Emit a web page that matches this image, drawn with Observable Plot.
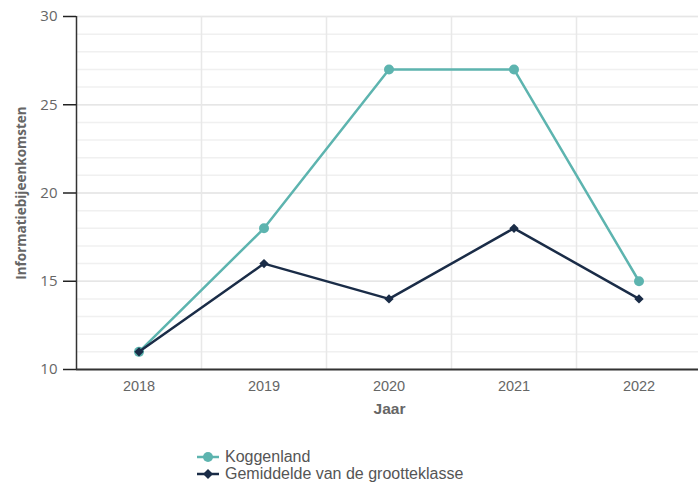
<!DOCTYPE html>
<html><head><meta charset="utf-8">
<script src="https://cdn.jsdelivr.net/npm/d3@7"></script>
<script src="https://cdn.jsdelivr.net/npm/@observablehq/plot@0.6"></script>
<style>
body{margin:0;background:#fff;font-family:"Liberation Sans",Arial,sans-serif}
#legend{margin-left:197px;margin-top:18px;font-size:16px;color:#555}
.item{display:flex;align-items:center;height:17px}
.item svg{margin-right:6px}
</style>
</head><body><div id="chart"></div><div id="legend"></div>
<script>
const years = ["2018","2019","2020","2021","2022"];
const koggenland = [11,18,27,27,15];
const gemiddelde = [11,16,14,18,14];
const yTicks = [10,15,20,25,30];
const seriesNames = ["Koggenland","Gemiddelde van de grootteklasse"];
const seriesColors = ["#5db4af","#1a2c47"];

const kog = koggenland.map((v,i)=>({i, v}));
const gem = gemiddelde.map((v,i)=>({i, v}));

const plot = Plot.plot({
  width: 698, height: 430,
  marginLeft: 76, marginRight: 0, marginTop: 16, marginBottom: 61,
  style: {fontFamily: '"Liberation Sans", Arial, sans-serif', background: "#fff"},
  x: {domain: [-0.5, 4.5], range: [76, 701], axis: null},
  y: {domain: [10, 30], range: [369, 16], axis: null},
  marks: [
    Plot.ruleY(d3.range(10, 31), {stroke: "#f0f0f0", strokeWidth: 1.5}),
    Plot.ruleY(yTicks.slice(1), {stroke: "#e6e6e6", strokeWidth: 1.5}),
    Plot.ruleX([0.5,1.5,2.5,3.5], {stroke: "#e8e8e8", strokeWidth: 1.5}),
    Plot.ruleX([-0.5], {stroke: "#333", strokeWidth: 1.5}),
    Plot.ruleY([10], {stroke: "#333", strokeWidth: 2}),
    Plot.axisY({ticks: yTicks, tickSize: 13, tickPadding: 6, stroke: "#222", strokeWidth: 1.5, fill: "#666", fontSize: 15, fontFamily: '"Open Sans", sans-serif', label: null}),
    Plot.axisX({ticks: [0,1,2,3,4], tickFormat: i => years[i], tickSize: 0, tickPadding: 11, fill: "#666", fontSize: 14.5, label: null}),
    Plot.text(["Jaar"], {frameAnchor: "bottom", dx: 2, dy: 44, fontWeight: "bold", fontSize: 15.5, fill: "#666"}),
    Plot.text(["Informatiebijeenkomsten"], {frameAnchor: "left", dx: -55, rotate: -90, textAnchor: "middle", fontWeight: "bold", fontSize: 13.5, fontFamily: '"Open Sans", sans-serif', fill: "#666"}),
    Plot.line(kog, {x: "i", y: "v", stroke: seriesColors[0], strokeWidth: 2.5}),
    Plot.dot(kog, {x: "i", y: "v", fill: seriesColors[0], r: 5, symbol: "circle"}),
    Plot.line(gem, {x: "i", y: "v", stroke: seriesColors[1], strokeWidth: 2.5}),
    Plot.dot(gem, {x: "i", y: "v", fill: seriesColors[1], r: 4.2, symbol: "diamond2"})
  ]
});
document.getElementById("chart").appendChild(plot);

const legend = document.getElementById("legend");
seriesNames.forEach((name, k) => {
  const item = document.createElement("div");
  item.className = "item";
  const c = seriesColors[k];
  const marker = k === 0
    ? `<circle cx="11" cy="6" r="5" fill="${c}"/>`
    : `<path d="M11 1 L16 6 L11 11 L6 6 Z" fill="${c}"/>`;
  item.innerHTML = `<svg width="22" height="12"><line x1="0" x2="22" y1="6" y2="6" stroke="${c}" stroke-width="2.5"/>${marker}</svg><span>${name}</span>`;
  legend.appendChild(item);
});
</script>
</body></html>
